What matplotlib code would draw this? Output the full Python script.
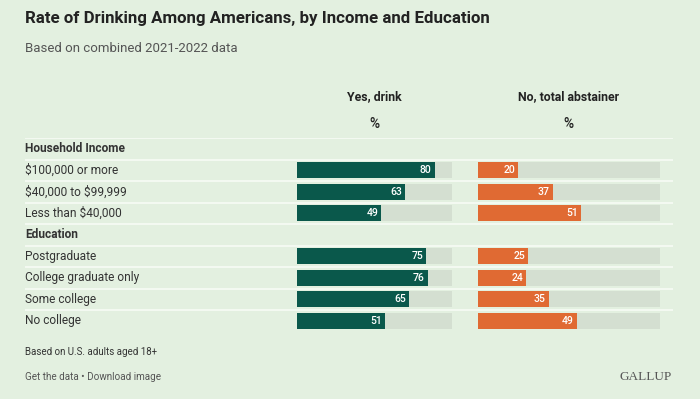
import matplotlib.pyplot as plt
import matplotlib.transforms as mtransforms

plt.rcParams["text.parse_math"] = False  # os "$" são texto normal

# Dados do gráfico
linhas = ["Household Income", "$100,000 or more", "$40,000 to $99,999", "Less than $40,000",
          "Education", "Postgraduate", "College graduate only", "Some college", "No college"]
cabecalhos = ["Household Income", "Education"]
sim_bebe = [None, 80, 63, 49, None, 75, 76, 65, 51]
nao_bebe = [None, 20, 37, 51, None, 25, 24, 35, 49]

BG = "#e3f0e0"
VERDE = "#0a584b"
LARANJA = "#e06a33"
TRILHO = "#d4dfd1"
FONTE = "Roboto"

W, H = 700, 399
fig = plt.figure(figsize=(W / 100, H / 100), dpi=100, facecolor=BG)


def px(x0, y0, x1, y1):
    # converte caixa em pixels (topo para baixo) para coordenadas da figura
    return [x0 / W, 1 - y1 / H, (x1 - x0) / W, (y1 - y0) / H]


n = len(linhas)
topo, base = 138.0, 331.5  # limites verticais das linhas

# Eixo das linhas (rótulos e separadores)
ax_l = fig.add_axes(px(25, topo, 673, base))
ax_l.set_ylim(n - 0.5, -0.5)
ax_l.set_xlim(0, 1)
ax_l.axis("off")
for i in range(n):
    ax_l.axhline(i - 0.5, color="#f7fbf5", lw=1.2)
    peso = "bold" if linhas[i] in cabecalhos else "normal"
    ax_l.text(0, i, linhas[i], va="center", ha="left", fontsize=8.6,
              family=FONTE, weight=peso, color="#333333")


def barras(caixa, valores, cor, titulo):
    ax = fig.add_axes(px(*caixa))
    ax.set_ylim(n - 0.5, -0.5)
    ax.set_xlim(0, 90)
    ax.axis("off")
    for i, v in enumerate(valores):
        if v is None:
            continue
        ax.barh(i, 90, height=0.745, color=TRILHO)
        ax.barh(i, v, height=0.745, color=cor)
        t = mtransforms.offset_copy(ax.transData, fig=fig, x=-3, y=0, units="dots")
        ax.text(v, i, str(v), transform=t, ha="right", va="center", color="white",
                fontsize=7.5, family=FONTE, weight="medium")
    xc = (caixa[0] + caixa[2]) / 2 / W
    fig.text(xc, 1 - 97 / H, titulo, ha="center", va="center", fontsize=8.8,
             family=FONTE, weight="bold", color="#222222")
    fig.text(xc, 1 - 124 / H, "%", ha="center", va="center", fontsize=10,
             family=FONTE, weight="medium", color="#222222")


barras((297.3, topo, 451.7, base), sim_bebe, VERDE, "Yes, drink")
barras((477.7, topo, 660, base), nao_bebe, LARANJA, "No, total abstainer")

fig.text(25 / W, 1 - 18 / H, "Rate of Drinking Among Americans, by Income and Education",
         ha="left", va="center", fontsize=12.2, family=FONTE, weight="bold", color="#222222")
fig.text(25 / W, 1 - 48 / H, "Based on combined 2021-2022 data", ha="left", va="center",
         fontsize=9.5, family=FONTE, color="#555555")
fig.text(25 / W, 1 - 352 / H, "Based on U.S. adults aged 18+", ha="left", va="center",
         fontsize=7.0, family=FONTE, color="#333333")
fig.text(25 / W, 1 - 377 / H, "Get the data \u2022 Download image", ha="left", va="center",
         fontsize=7.1, family=FONTE, color="#555555")
fig.text(672 / W, 1 - 377 / H, "GALLUP", ha="right", va="center", fontsize=9.5,
         family="Liberation Serif", color="#555555")

fig.savefig("out.png", dpi=100, facecolor=BG)
